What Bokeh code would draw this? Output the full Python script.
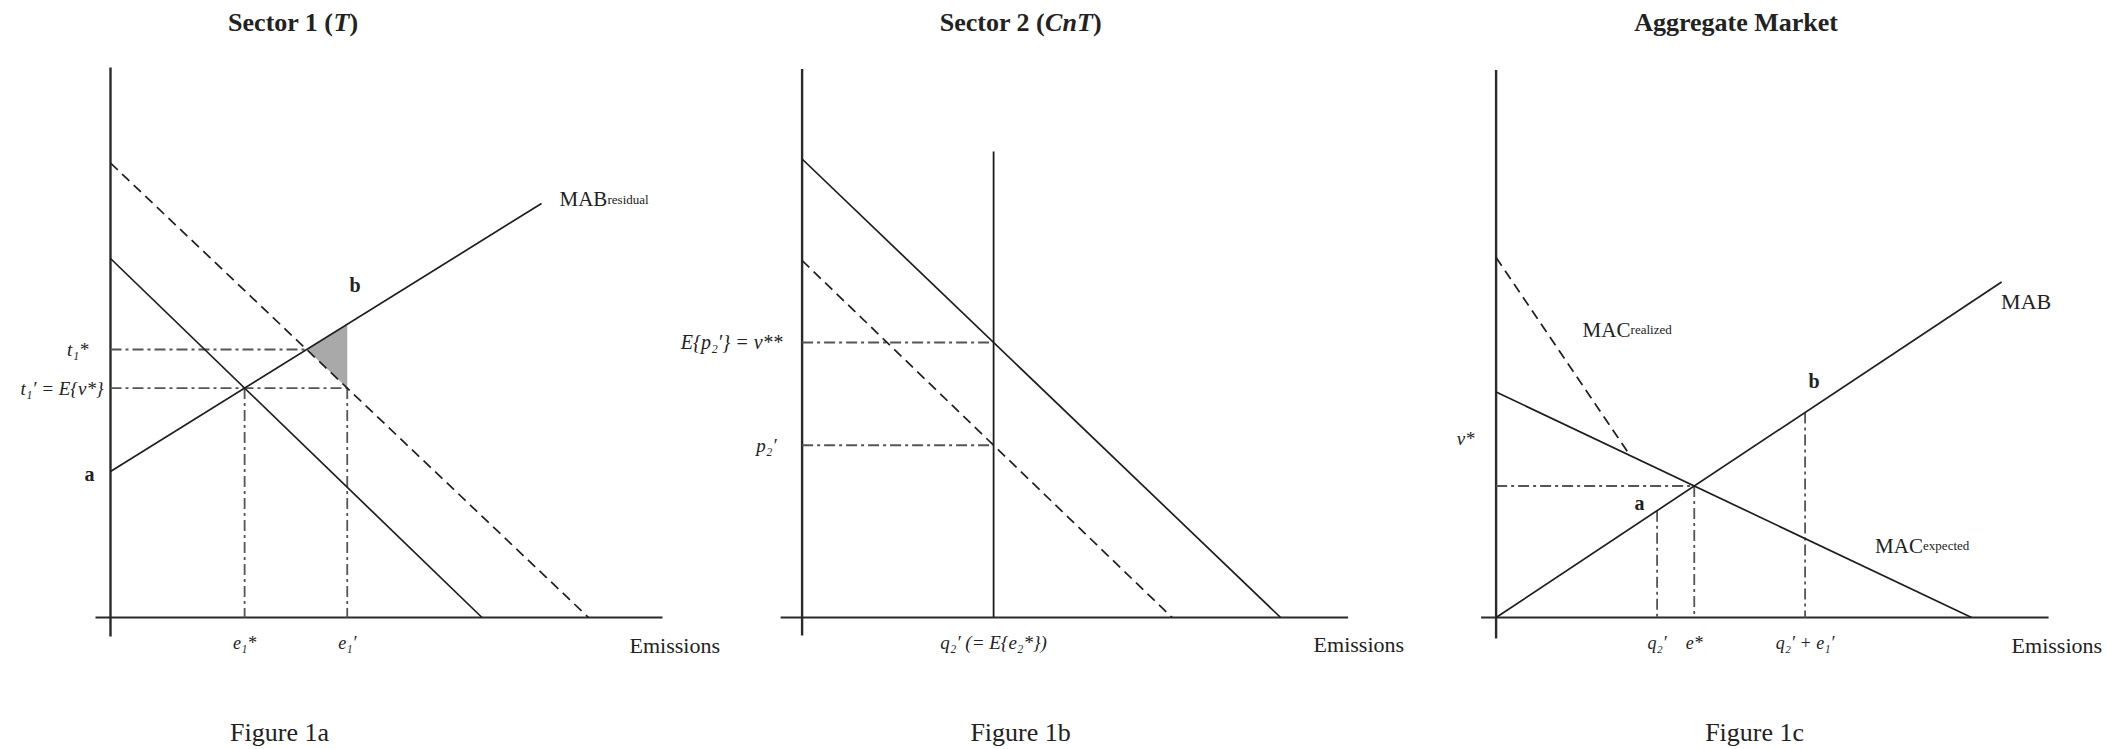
from bokeh.plotting import figure
from bokeh.models import Range1d
from bokeh.core.properties import value
from bokeh.embed import file_html
from bokeh.resources import INLINE

# ---------------------------------------------------------------
# Schedules (emissions on x, price on y), one set per panel
# ---------------------------------------------------------------
# Figure 1a - Sector 1 (tradable)
s1_mac_x = [0.0, 74.3]          # expected marginal abatement cost
s1_mac_y = [71.8, 0.0]
s1_mac_real_x = [0.0, 95.6]     # realized (shifted) MAC
s1_mac_real_y = [90.9, 0.0]
s1_mab_x = [0.0, 86.2]          # residual marginal abatement benefit
s1_mab_y = [29.2, 82.8]

# Figure 1b - Sector 2 (command and trade)
s2_mac_x = [0.0, 95.7]
s2_mac_y = [91.7, 0.0]
s2_mac_real_x = [0.0, 74.0]
s2_mac_real_y = [71.4, 0.0]
s2_quota = 38.3                 # q2'
s2_quota_top = 93.2

# Figure 1c - aggregate market
agg_mab_x = [0.0, 101.1]
agg_mab_y = [0.0, 67.1]
agg_mac_x = [0.0, 95.1]
agg_mac_y = [45.1, 0.0]
agg_mac_real_start = 72.0       # realized MAC intercept
agg_mac_real_end_x = 26.8       # where it meets the expected MAC
agg_q2 = 32.2                   # q2'
agg_q2_e1 = 61.8                # q2' + e1'

# ---------------------------------------------------------------
FONT = value("Liberation Serif")
INK = "#1e1e1e"
GUIDE = "#555555"
PX = 5.0          # screen pixels per data unit
W, H = 2123, 749
OY = 617          # pixel row of the emissions axes
ORIGINS = {"default": 110.0, "s2": 801.6, "s3": 1495.6}   # pixel column of each price axis


def xr(ox):
    return Range1d(-ox / PX, (W - ox) / PX)


p = figure(width=W, height=H,
           x_range=xr(ORIGINS["default"]),
           y_range=Range1d(-(H - OY) / PX, OY / PX),
           output_backend="svg", toolbar_location=None,
           min_border=0, outline_line_color=None,
           background_fill_color="white", border_fill_color="white")
p.extra_x_ranges = {"s2": xr(ORIGINS["s2"]), "s3": xr(ORIGINS["s3"])}
p.axis.visible = False
p.grid.visible = False


def line_at(xs, ys, x):
    return ys[0] + (ys[1] - ys[0]) * (x - xs[0]) / (xs[1] - xs[0])


def x_at(xs, ys, y):
    return xs[0] + (xs[1] - xs[0]) * (y - ys[0]) / (ys[1] - ys[0])


def cross(ax, ay, bx, by):
    ma = (ay[1] - ay[0]) / (ax[1] - ax[0])
    mb = (by[1] - by[0]) / (bx[1] - bx[0])
    ca = ay[0] - ma * ax[0]
    cb = by[0] - mb * bx[0]
    x = (cb - ca) / (ma - mb)
    return x, ca + ma * x


def axes(rn, x_lo, x_hi, y_lo, y_hi):
    p.line([x_lo, x_hi], [0, 0], line_color="#2a2a2a", line_width=2.2,
           x_range_name=rn)
    p.line([0, 0], [y_lo, y_hi], line_color="#2a2a2a", line_width=2.4,
           x_range_name=rn)


def solid(rn, xs, ys):
    p.line(xs, ys, line_color=INK, line_width=1.7, x_range_name=rn)


def dashed(rn, xs, ys):
    p.line(xs, ys, line_color=INK, line_width=1.7, line_dash="10 6",
           x_range_name=rn)


def guide(rn, xs, ys):
    p.line(xs, ys, line_color=GUIDE, line_width=1.8, line_dash="11 4 3 4",
           x_range_name=rn)


def label(rn, x, y, s, size=20, style="normal", align="left",
          baseline="middle", xoff=0, color="#222222"):
    p.text(x=[x], y=[y], text=[s], text_font=FONT,
           text_font_size=f"{size}px", text_font_style=style,
           text_align=align, text_baseline=baseline, x_offset=xoff,
           text_color=color, x_range_name=rn)


TITLE_Y = 119.1
TICK_Y = -5.0


def title(rn, x, head, ital, ital_w):
    # bold head, bold-italic sector code, closing bracket
    label(rn, x, TITLE_Y, head, size=26, style="bold", align="right")
    label(rn, x, TITLE_Y, ital, size=26, style="bold italic", align="left")
    label(rn, x, TITLE_Y, ")", size=26, style="bold", align="left",
          xoff=ital_w)


def sub_label(rn, x, y, main, sub, main_w, size=21):
    label(rn, x, y, main, size=size, baseline="alphabetic")
    label(rn, x, y, sub, size=13, baseline="alphabetic", xoff=main_w)


# ---------------------------------------------------------------
# Figure 1a
# ---------------------------------------------------------------
r1 = "default"
axes(r1, -3.0, 110.4, -3.8, 110.0)

e1_star, t1_prime = cross(s1_mac_x, s1_mac_y, s1_mab_x, s1_mab_y)
xt, t1_star = cross(s1_mac_real_x, s1_mac_real_y, s1_mab_x, s1_mab_y)
e1_prime = x_at(s1_mac_real_x, s1_mac_real_y, t1_prime)
mab_at_e1 = line_at(s1_mab_x, s1_mab_y, e1_prime)

p.patch([xt, e1_prime, e1_prime], [t1_star, mab_at_e1, t1_prime],
        fill_color="#a9a9a9", line_color=None)

guide(r1, [0, xt], [t1_star, t1_star])
guide(r1, [0, e1_prime], [t1_prime, t1_prime])
guide(r1, [e1_star, e1_star], [t1_prime, 0])
guide(r1, [e1_prime, e1_prime], [t1_prime, 0])

dashed(r1, s1_mac_real_x, s1_mac_real_y)
solid(r1, s1_mac_x, s1_mac_y)
solid(r1, s1_mab_x, s1_mab_y)

title(r1, 44.6, "Sector 1 (", "T", 16)
sub_label(r1, 89.8, 83.7, "MAB", "residual", 48)
label(r1, 48.9, 66.5, "b", size=20, style="bold", align="center")
label(r1, -4.2, 28.7, "a", size=20, style="bold", align="center")
label(r1, -4.4, t1_star, "t\u2081*", size=19, style="italic", align="right")
label(r1, -1.4, t1_prime, "t\u2081\u2032 = E{v*}", size=19, style="italic",
      align="right")
label(r1, e1_star, TICK_Y, "e\u2081*", size=18, style="italic",
      align="center")
label(r1, e1_prime, TICK_Y, "e\u2081\u2032", size=18, style="italic",
      align="center")
label(r1, 103.8, -5.6, "Emissions", size=22)
label(r1, 33.8, -23.0, "Figure 1a", size=26, align="center")

# ---------------------------------------------------------------
# Figure 1b
# ---------------------------------------------------------------
r2 = "s2"
axes(r2, -4.3, 109.2, -3.6, 109.7)

v_ss = line_at(s2_mac_x, s2_mac_y, s2_quota)
p2_prime = line_at(s2_mac_real_x, s2_mac_real_y, s2_quota)

guide(r2, [0, s2_quota], [v_ss, v_ss])
guide(r2, [0, s2_quota], [p2_prime, p2_prime])

solid(r2, s2_mac_x, s2_mac_y)
dashed(r2, s2_mac_real_x, s2_mac_real_y)
p.line([s2_quota, s2_quota], [0, s2_quota_top], line_color=INK,
       line_width=1.8, x_range_name=r2)

title(r2, 48.6, "Sector 2 (", "CnT", 48)
label(r2, -3.9, v_ss, "E{p\u2082\u2032} = v**", size=20, style="italic",
      align="right")
label(r2, -5.1, p2_prime, "p\u2082\u2032", size=19, style="italic",
      align="right")
label(r2, s2_quota, TICK_Y, "q\u2082\u2032 (= E{e\u2082*})", size=19,
      style="italic", align="center")
label(r2, 102.3, -5.3, "Emissions", size=22)
label(r2, 43.7, -23.0, "Figure 1b", size=26, align="center")

# ---------------------------------------------------------------
# Figure 1c
# ---------------------------------------------------------------
r3 = "s3"
axes(r3, -3.0, 110.5, -4.2, 109.5)

e_star, v_star = cross(agg_mab_x, agg_mab_y, agg_mac_x, agg_mac_y)
real_end_y = line_at(agg_mac_x, agg_mac_y, agg_mac_real_end_x)

guide(r3, [0, e_star], [v_star, v_star])
guide(r3, [e_star, e_star], [v_star, 0])
guide(r3, [agg_q2, agg_q2], [line_at(agg_mab_x, agg_mab_y, agg_q2), 0])
guide(r3, [agg_q2_e1, agg_q2_e1],
      [line_at(agg_mab_x, agg_mab_y, agg_q2_e1), 0])

solid(r3, agg_mab_x, agg_mab_y)
solid(r3, agg_mac_x, agg_mac_y)
dashed(r3, [0, agg_mac_real_end_x], [agg_mac_real_start, real_end_y])

label(r3, 48.0, TITLE_Y, "Aggregate Market", size=26, style="bold",
      align="center")
label(r3, 101.0, 63.2, "MAB", size=22, baseline="alphabetic")
sub_label(r3, 17.3, 57.6, "MAC", "realized", 48)
sub_label(r3, 75.8, 14.4, "MAC", "expected", 48)
label(r3, 63.6, 47.4, "b", size=20, style="bold", align="center")
label(r3, 28.7, 22.9, "a", size=20, style="bold", align="center")
label(r3, -4.3, 35.8, "v*", size=19, style="italic", align="right")
label(r3, agg_q2, TICK_Y, "q\u2082\u2032", size=18, style="italic",
      align="center")
label(r3, e_star, TICK_Y, "e*", size=18, style="italic", align="center")
label(r3, agg_q2_e1, TICK_Y, "q\u2082\u2032 + e\u2081\u2032", size=18,
      style="italic", align="center")
label(r3, 103.1, -5.6, "Emissions", size=22)
label(r3, 51.7, -23.0, "Figure 1c", size=26, align="center")

open("out.html", "w").write(file_html(p, INLINE))
